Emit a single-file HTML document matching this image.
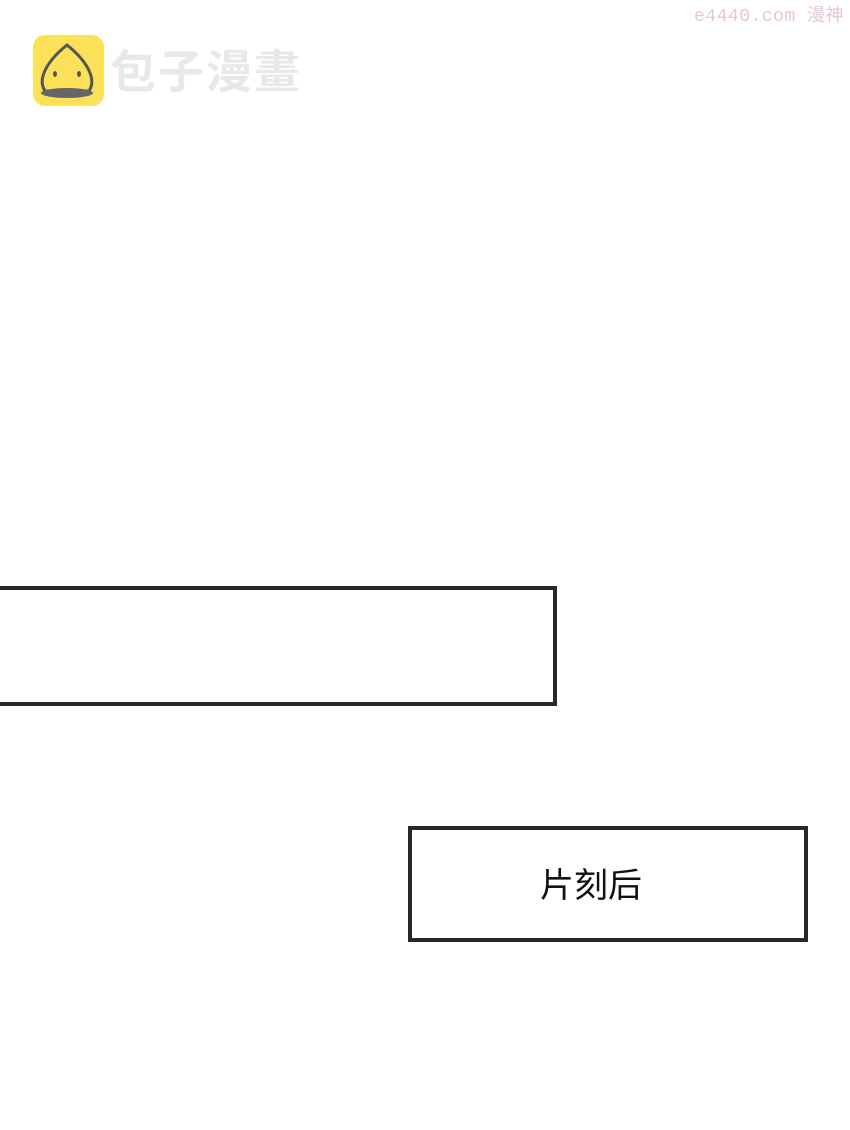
<!DOCTYPE html>
<html><head><meta charset="utf-8"><style>
body{margin:0;width:850px;height:1130px;background:#fff;position:relative;overflow:hidden;font-family:"Liberation Sans","Noto Sans CJK SC",sans-serif}
.b{position:absolute;border:4px solid #2b2829;box-sizing:border-box;background:#fff}
</style></head><body>
<div style="position:absolute;left:694px;top:1px;font-family:'Liberation Mono','Noto Sans CJK SC',monospace;font-size:18px;color:#e6c6dc;letter-spacing:0.5px">e4440.com 漫神</div>
<div style="position:absolute;left:33px;top:35px;width:71px;height:71px;border-radius:12px;background:#fbe05a"></div>
<svg style="position:absolute;left:33px;top:35px" width="71" height="71">
<path d="M12 56 C4 44 14 26 34 10 C54 26 64 44 56 56 Z" fill="none" stroke="#555" stroke-width="3"/>
<ellipse cx="34" cy="58" rx="26" ry="5" fill="#666"/>
<ellipse cx="22" cy="39" rx="2" ry="3" fill="#555"/><ellipse cx="46" cy="39" rx="2" ry="3" fill="#555"/>
</svg>
<div style="position:absolute;left:110px;top:44px;font-size:46px;font-weight:bold;color:#e8e8e8;letter-spacing:2px;line-height:56px">包子漫畫</div>
<div class="b" style="left:-10px;top:586px;width:567px;height:120px"></div>
<div class="b" style="left:408px;top:826px;width:400px;height:116px"></div>
<div style="position:absolute;left:540px;top:866px;font-size:34px;line-height:40px;color:#111">片刻后</div>
</body></html>
